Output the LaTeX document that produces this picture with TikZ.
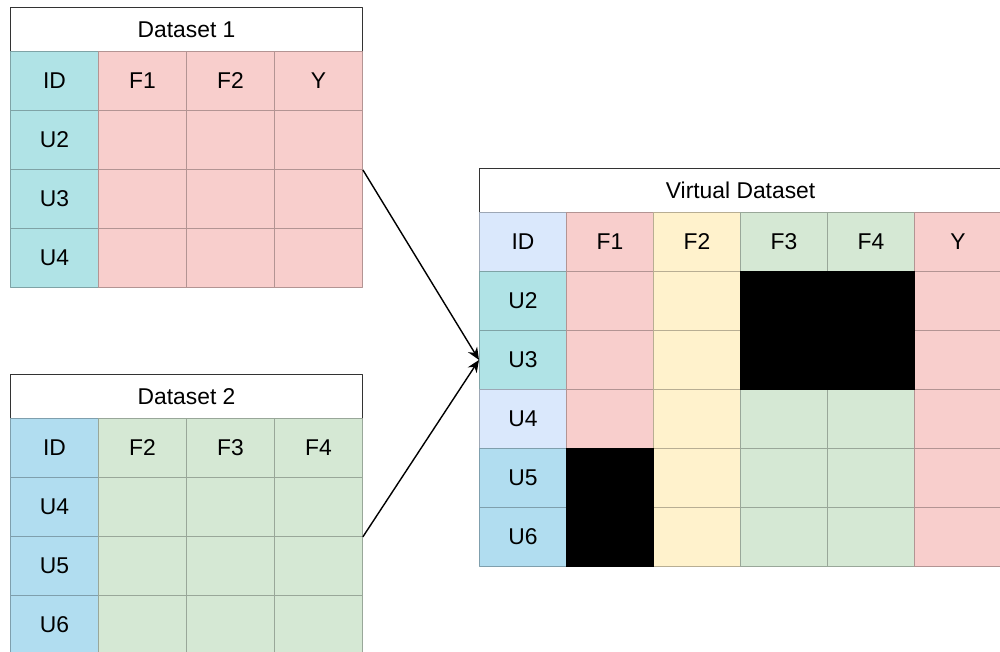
\documentclass[tikz,border=0pt]{standalone}
\usepackage{fontspec}
\setmainfont{Liberation Sans}
\usetikzlibrary{arrows.meta}
\definecolor{pinkF}{HTML}{F8CECC}
\definecolor{tealF}{HTML}{B0E3E6}
\definecolor{blueF}{HTML}{B1DDF0}
\definecolor{skyF}{HTML}{DAE8FC}
\definecolor{greenF}{HTML}{D5E8D4}
\definecolor{sandF}{HTML}{FFF2CC}
\tikzset{
  cell/.style={draw=#1!72!black, fill=#1, line width=0.5pt, minimum width=1.76cm,
    minimum height=1.18cm, inner sep=0pt, anchor=north west},
  vcell/.style={cell=#1, minimum width=1.74cm},
  titlebox/.style={draw=black!80, fill=white, line width=0.7pt, minimum height=0.88cm,
    inner sep=0pt, anchor=north west},
}
\begin{document}
\begin{tikzpicture}[x=0.02cm, y=-0.02cm, font=\fontsize{13}{15}\selectfont, line join=round, >={Stealth[length=7pt,width=6pt]}]
			\clip (0,0) rectangle (1000,652);
			% first source table
			\node[titlebox, minimum width=7.04cm] (d1) at (10,7) {Dataset 1};
			\foreach \lab [count=\r from 0] in {ID,U2,U3,U4}
			\node[cell=tealF] (d1-\r-0) at (10,{51+59*\r}) {\lab};
			\foreach \h [count=\c] in {F1,F2,Y}{
				\node[cell=pinkF] (d1-0-\c) at ({10+88*\c},51) {\h};
				\foreach \r in {1,2,3}
				\node[cell=pinkF] (d1-\r-\c) at ({10+88*\c},{51+59*\r}) {};
			}
			% second source table
			\node[titlebox, minimum width=7.04cm] (d2) at (10,374) {Dataset 2};
			\foreach \lab [count=\r from 0] in {ID,U4,U5,U6}
			\node[cell=blueF] (d2-\r-0) at (10,{418+59*\r}) {\lab};
			\foreach \h [count=\c] in {F2,F3,F4}{
				\node[cell=greenF] (d2-0-\c) at ({10+88*\c},418) {\h};
				\foreach \r in {1,2,3}
				\node[cell=greenF] (d2-\r-\c) at ({10+88*\c},{418+59*\r}) {};
			}
			% joined table
			\node[titlebox, minimum width=10.44cm] (v) at (479,168) {Virtual Dataset};
			\foreach \lab/\clr [count=\r from 0] in {ID/skyF,U2/tealF,U3/tealF,U4/skyF,U5/blueF,U6/blueF}
			\node[vcell=\clr] (v-\r-0) at (479,{212+59*\r}) {\lab};
			\foreach \h/\clr [count=\c] in {F1/pinkF,F2/sandF,F3/greenF,F4/greenF,Y/pinkF}{
				\node[vcell=\clr] (v-0-\c) at ({479+87*\c},212) {\h};
				\foreach \r in {1,...,5}
				\node[vcell=\clr] (v-\r-\c) at ({479+87*\c},{212+59*\r}) {};
			}
			% missing blocks
			\fill[black] (v-1-3.north west) rectangle (v-2-4.south east);
			\fill[black] (v-4-1.north west) rectangle (v-5-1.south east);
			\draw[->, line width=0.8pt] (d1-1-3.south east) -- (v-2-0.west);
			\draw[->, line width=0.8pt] (d2-1-3.south east) -- (v-2-0.west);
		\end{tikzpicture}
\end{document}
